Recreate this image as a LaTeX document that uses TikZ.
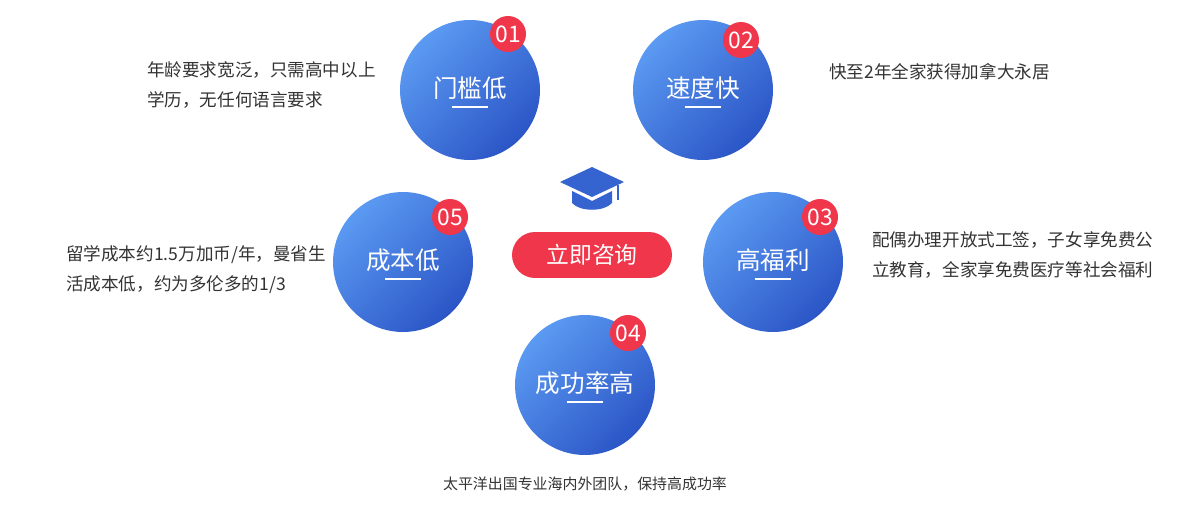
\documentclass[tikz,border=0pt]{standalone}
\usepackage{fontspec}
\setmainfont{Noto Sans CJK SC}
\usetikzlibrary{positioning}
\definecolor{blueA}{HTML}{5B9AF2}
\definecolor{blueB}{HTML}{2B55C6}
\definecolor{badge}{HTML}{F0364A}
\definecolor{txt}{HTML}{333333}
\tikzset{ball/.style={circle,minimum size=2.8cm,inner sep=0pt,shading=axis,left color=blueA,right color=blueB,shading angle=45,text=white,font=\fontsize{14}{16}\selectfont}}
\tikzset{tag/.style={circle,fill=badge,minimum size=0.72cm,inner sep=0pt,text=white,font=\fontsize{13}{14}\selectfont}}
\tikzset{note/.style={text=txt,font=\fontsize{10}{17}\selectfont,align=left}}
\tikzset{uline/.style={white,line width=0.6pt}}
\begin{document}
\begin{tikzpicture}[x=0.02cm,y=-0.02cm]
        \useasboundingbox (0,0) rectangle (1200,510);
        % circles
        \node[ball] (c1) at (470,90) {\raisebox{3pt}{门槛低}};
        \node[ball] (c2) at (703,90) {\raisebox{3pt}{速度快}};
        \node[ball] (c5) at (403,262) {\raisebox{3pt}{成本低}};
        \node[ball] (c3) at (773,262) {\raisebox{3pt}{高福利}};
        \node[ball] (c4) at (585,385) {\raisebox{3pt}{成功率高}};
        \foreach \c in {c1,c2,c5,c3,c4}
            \draw[uline] ([xshift=-0.36cm,yshift=-0.34cm]\c.center) -- ([xshift=0.36cm,yshift=-0.34cm]\c.center);
        % badges
        \node[tag] (t1) at (508,34) {01};
        \node[tag] (t2) at (741,40) {02};
        \node[tag] (t5) at (450,217) {05};
        \node[tag] (t3) at (820,217) {03};
        \node[tag] (t4) at (628,333) {04};
        % button
        \node[fill=badge,rounded corners=0.46cm,minimum width=3.2cm,minimum height=0.92cm,text=white,font=\fontsize{13}{14}\selectfont] (btn) at (592,255) {立即咨询};
        % cap
        \fill[blueB!80!blueA] (560,182) -- (592,167) -- (624,182) -- (592,197) -- cycle;
        \fill[blueB!80!blueA] (572,191) -- (572,203) .. controls (580,212) and (604,212) .. (612,203) -- (612,191) -- (592,201) -- cycle;
        \draw[blueB!80!blueA,line width=1pt] (618,185) -- (618,200);
        % notes
        \node[note,anchor=west] (n1) at (141,85) {年龄要求宽泛，只需高中以上\\学历，无任何语言要求};
        \node[note,anchor=west] (n2) at (823,72) {快至2年全家获得加拿大永居};
        \node[note,anchor=west] (n5) at (60,270) {留学成本约1.5万加币/年，曼省生\\活成本低，约为多伦多的1/3};
        \node[note,anchor=west] (n3) at (866,255) {配偶办理开放式工签，子女享免费公\\立教育，全家享免费医疗等社会福利};
        \node[note,font=\fontsize{8.5}{10}\selectfont] (n4) at (585,484) {太平洋出国专业海内外团队，保持高成功率};
\end{tikzpicture}
\end{document}
